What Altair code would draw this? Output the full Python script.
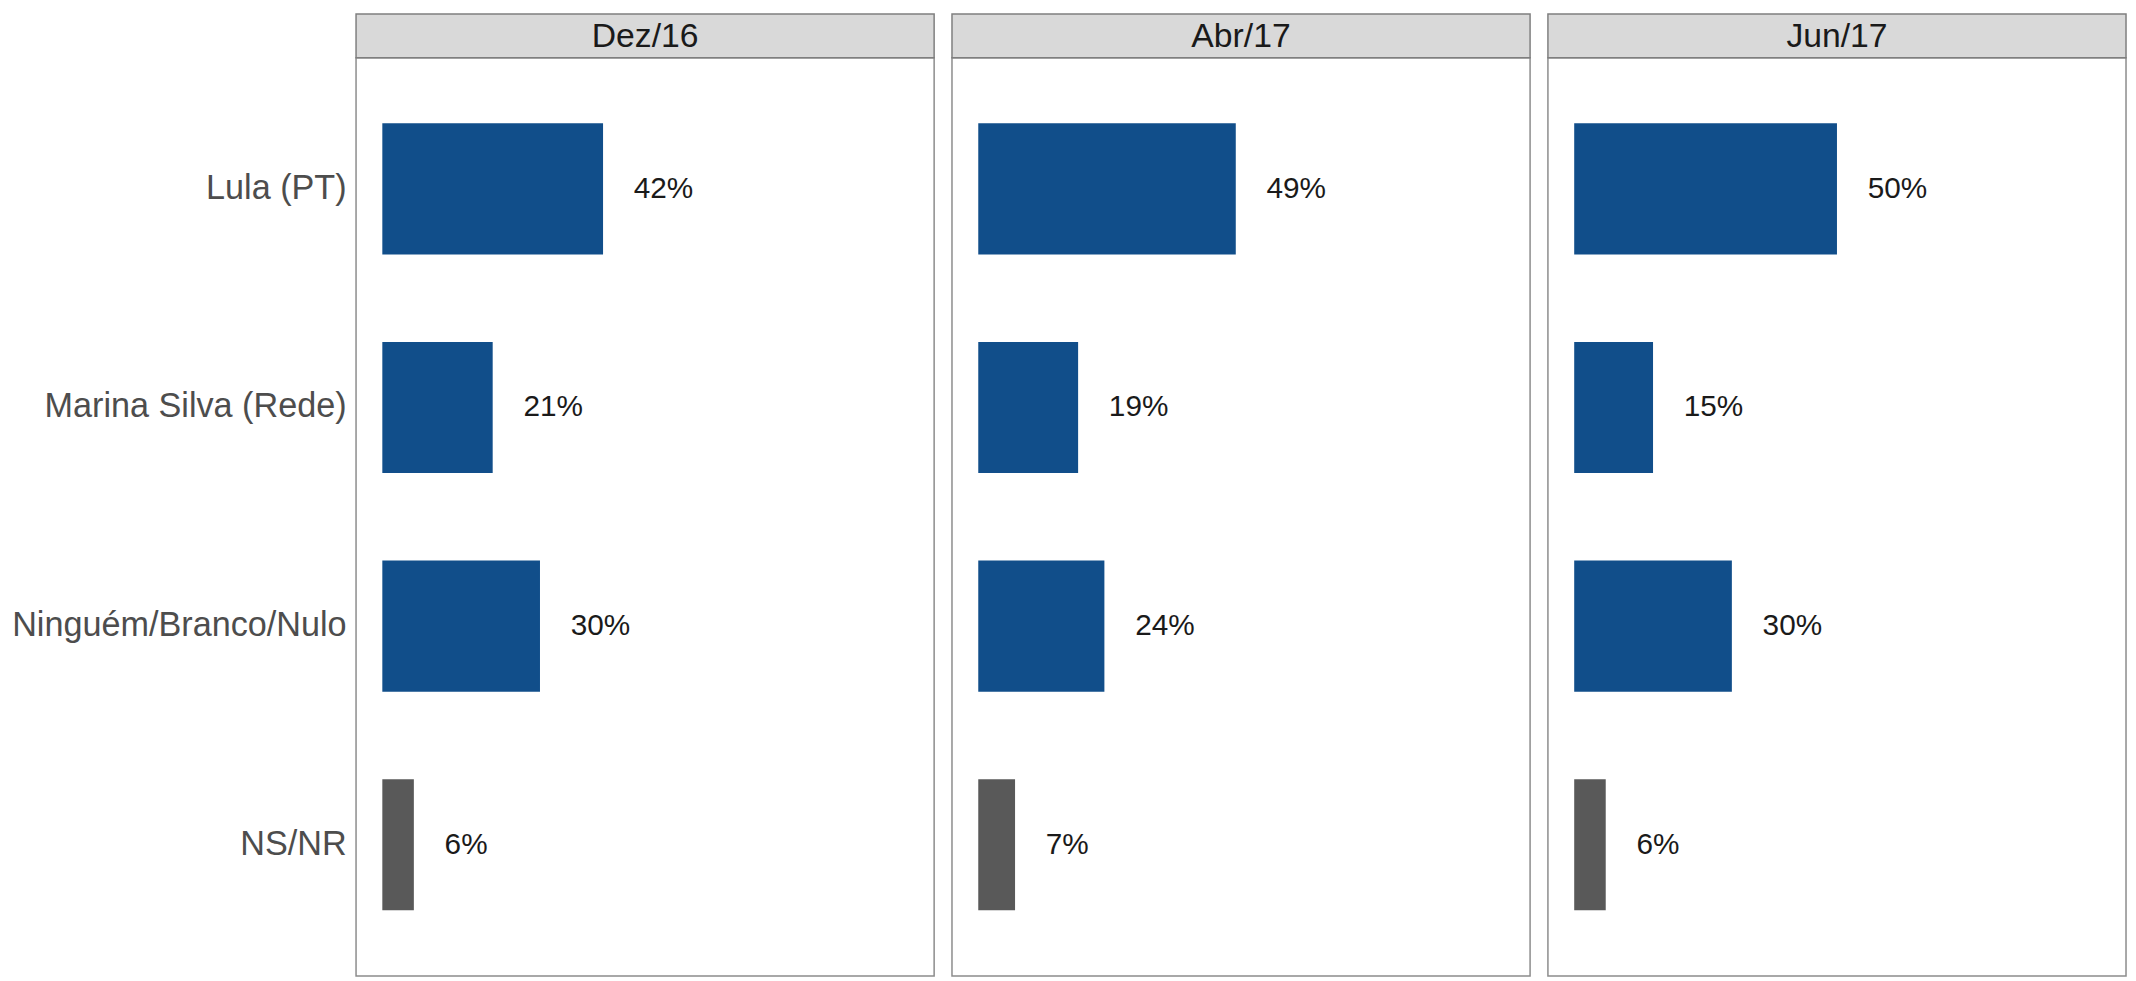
import altair as alt
import pandas as pd

periods = ["Dez/16", "Abr/17", "Jun/17"]
candidates = ["Lula (PT)", "Marina Silva (Rede)", "Ninguém/Branco/Nulo", "NS/NR"]
values_dez16 = [42, 21, 30, 6]
values_abr17 = [49, 19, 24, 7]
values_jun17 = [50, 15, 30, 6]
groups = ["cand", "cand", "cand", "ns"]

series = {"Dez/16": values_dez16, "Abr/17": values_abr17, "Jun/17": values_jun17}
rows = []
for p in periods:
    for c, v, g in zip(candidates, series[p], groups):
        rows.append({"period": p, "candidate": c, "value": v, "group": g})
df = pd.DataFrame(rows)

W = 583
H = 926
STRIP = 44
FONT = "Liberation Sans"

base = alt.Chart(df)

y_enc = alt.Y(
    "candidate:N",
    sort=candidates,
    scale=alt.Scale(paddingInner=0.4, paddingOuter=0.3),
    axis=alt.Axis(
        title=None, ticks=False, domain=False, labelFontSize=34.5, labelColor="#4D4D4D",
        labelFont=FONT, labelPadding=8, minExtent=349, maxExtent=349, labelLimit=400,
    ),
)
x_enc = alt.X("value:Q", scale=alt.Scale(domain=[-5, 105], nice=False, zero=False), axis=None)

bars = base.mark_bar().encode(
    x=x_enc,
    y=y_enc,
    color=alt.Color("group:N", scale=alt.Scale(domain=["cand", "ns"], range=["#114E8A", "#595959"]), legend=None),
)

labels = base.transform_calculate(lbl="datum.value + '%'").mark_text(
    align="left", baseline="middle", dx=31, fontSize=30, font=FONT, color="#1A1A1A"
).encode(x=x_enc, y=y_enc, text="lbl:N")

strip_bg = base.transform_aggregate(n="count()", groupby=["period"]).mark_rect(
    fill="#D9D9D9", stroke="#7F7F7F", strokeWidth=1.5
).encode(x=alt.value(0), x2=alt.value(W), y=alt.value(-STRIP), y2=alt.value(0))

strip_txt = base.transform_aggregate(n="count()", groupby=["period"]).mark_text(
    align="center", baseline="middle", fontSize=34, font=FONT, color="#1A1A1A"
).encode(x=alt.value(W / 2), y=alt.value(-STRIP / 2 + 1), text="period:N")

chart = alt.layer(strip_bg, strip_txt, bars, labels).properties(width=W, height=H).facet(
    column=alt.Column("period:N", sort=periods, header=alt.Header(title=None, labels=False)),
    spacing=14,
).configure_view(stroke="#8C8C8C", strokeWidth=1.5).properties(padding=0)

chart.save("out.html", embed_options={"renderer": "svg", "actions": False})
